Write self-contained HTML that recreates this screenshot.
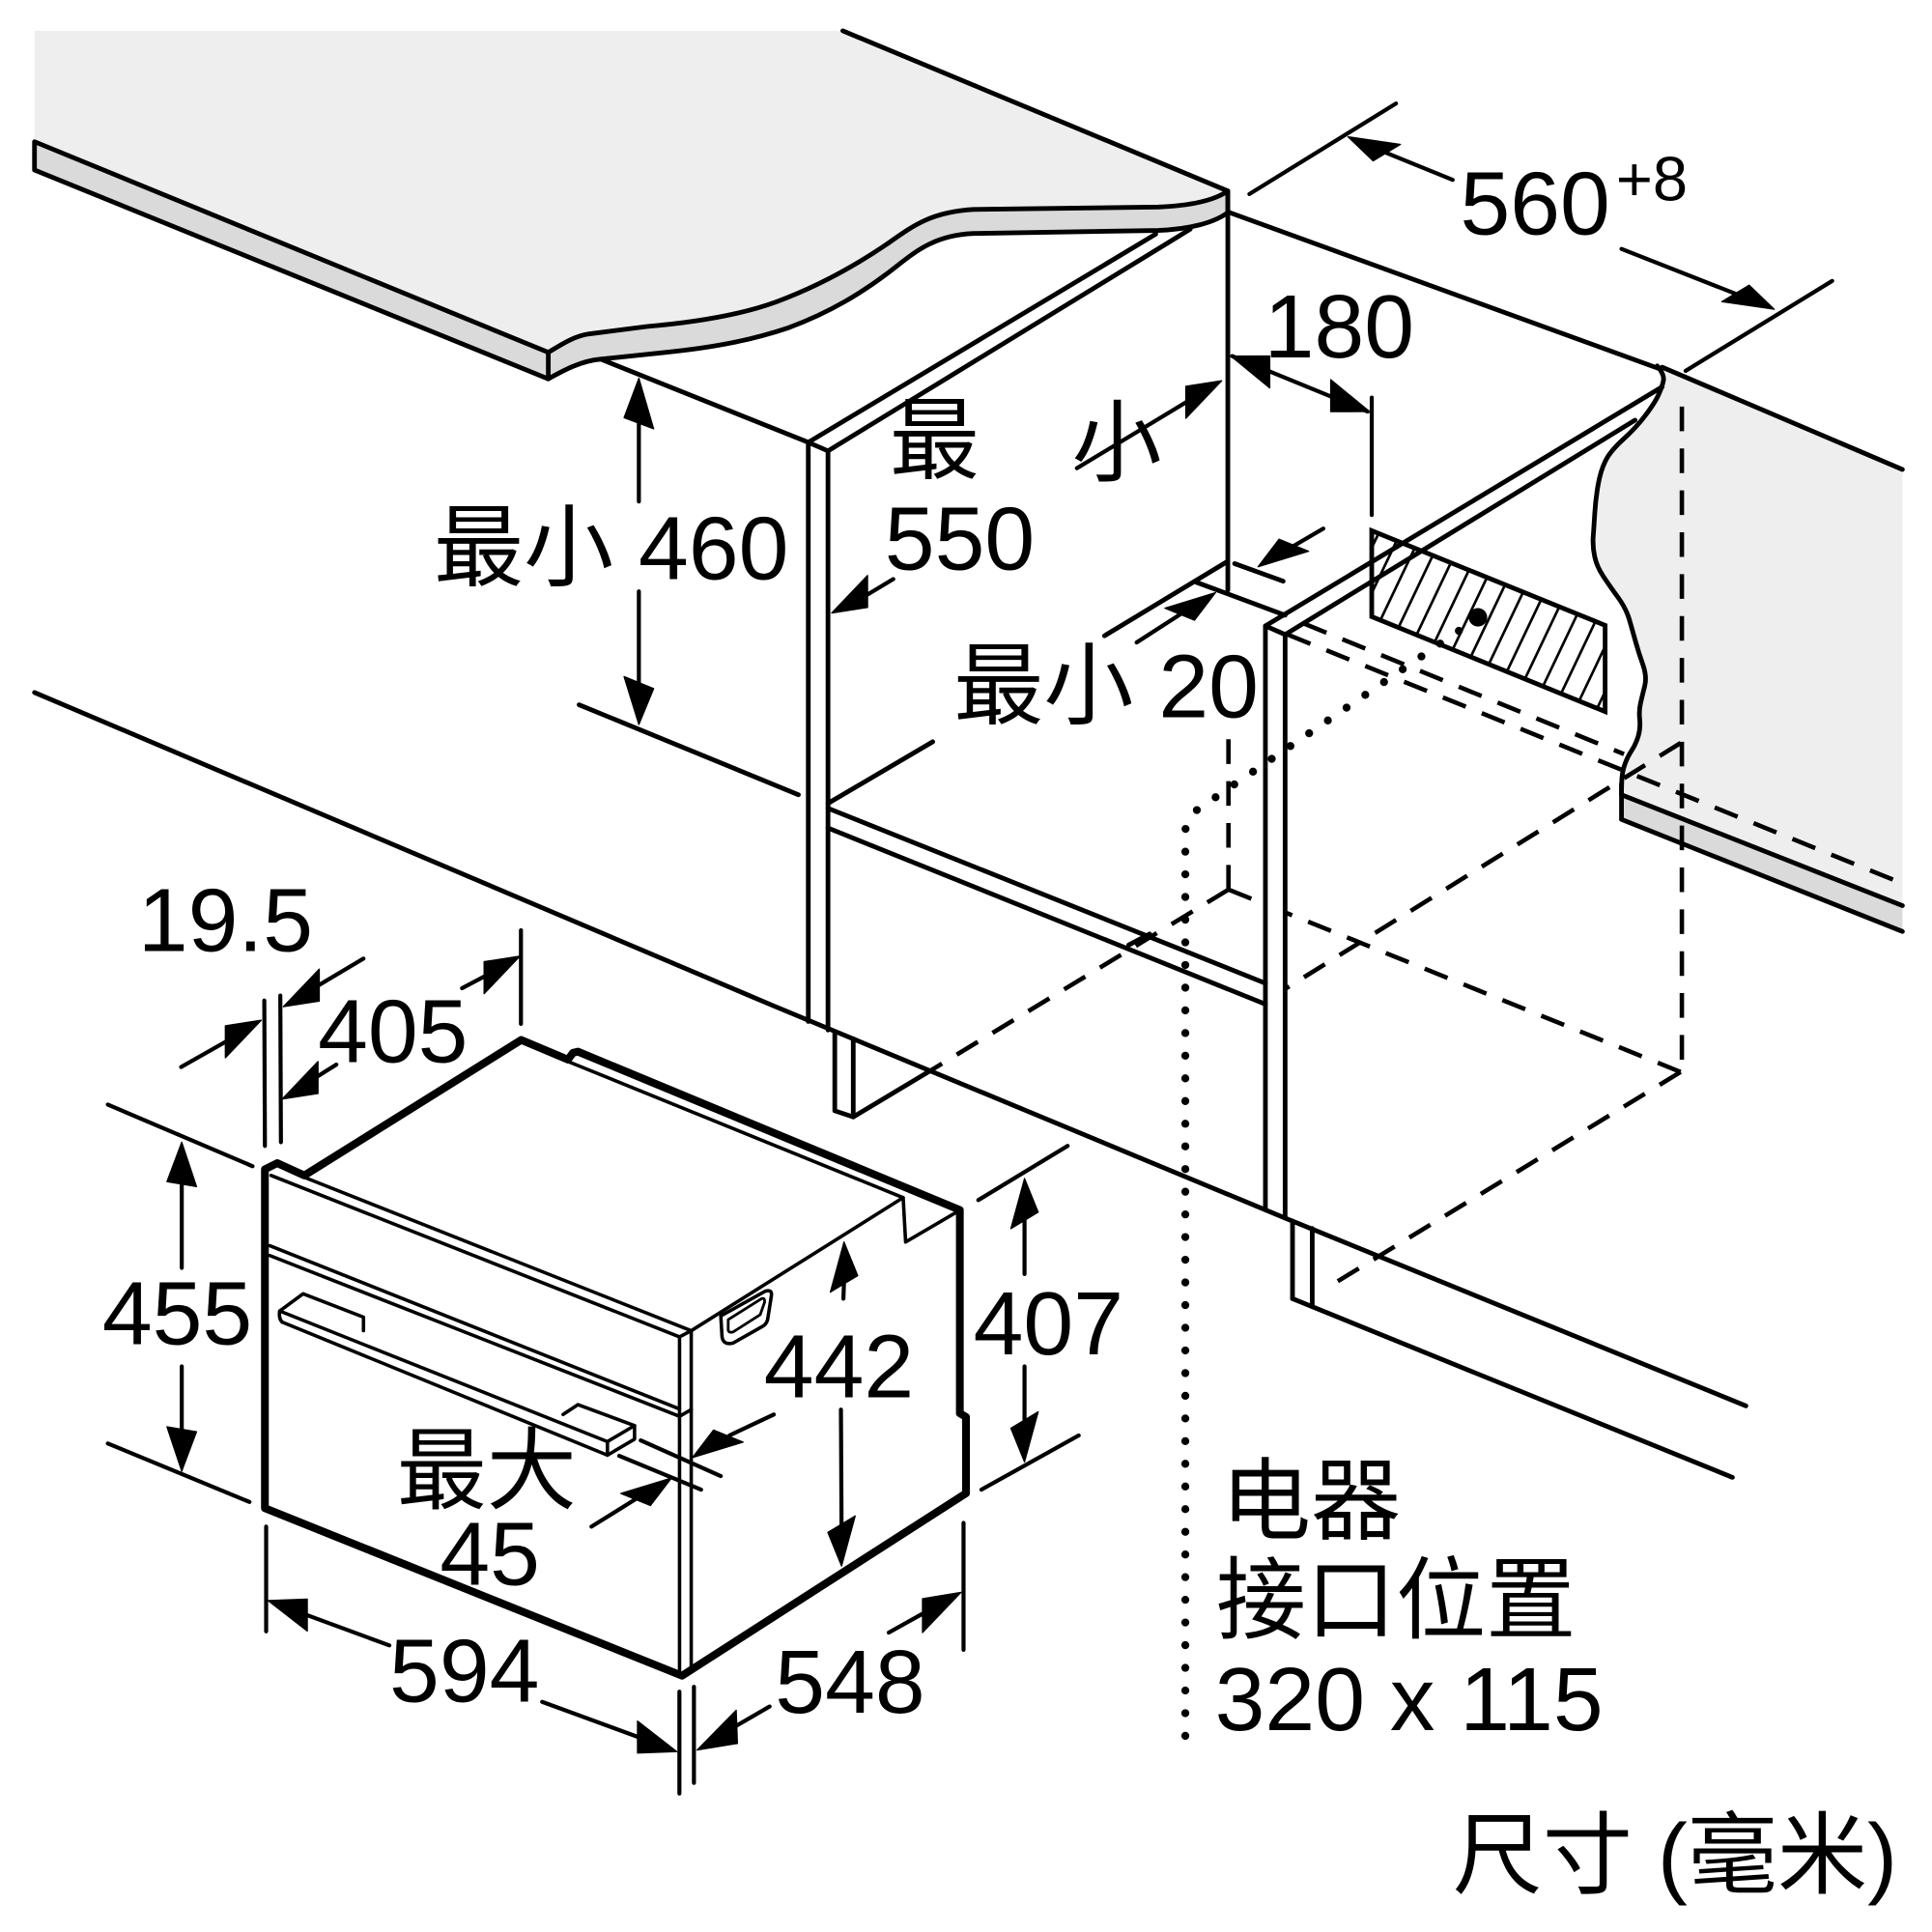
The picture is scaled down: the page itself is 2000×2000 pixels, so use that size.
<!DOCTYPE html>
<html>
<head>
<meta charset="utf-8">
<style>
html,body{margin:0;padding:0;background:#fff;}
svg{display:block;}
text{font-family:"Liberation Sans","Noto Sans CJK SC",sans-serif;fill:#000;}
</style>
</head>
<body>
<svg xmlns="http://www.w3.org/2000/svg" width="2000" height="2000" viewBox="0 0 1568 1568">
<rect x="0" y="0" width="1568" height="1568" fill="#fff"/>
<defs>
<clipPath id="hbox"><polygon points="1113.3,430.7 1302.7,507.5 1302.7,577.5 1113.3,500.5"/></clipPath>
</defs>

<!-- Countertop -->
<path d="M28,25 L684,25 L996.5,155 C985,163 965,167 940,168 L790,170 C755,172 740,184 720,198 C695,215 665,232 630,245 C600,256 560,262 525,265 L478,271 C465,273 455,280 445,286 L28,115 Z" fill="#eeeeee" stroke="none"/>
<path d="M28,115 L445,286 C455,280 465,273 478,271 L525,265 C560,262 600,256 630,245 C665,232 695,215 720,198 C740,184 755,172 790,170 L940,168 C965,167 985,163 996.5,155 L996.5,172.5 C985,181 965,186 940,187 L790,189.5 C755,191 740,207 720,222 C700,237 675,253 640,266 C610,276 580,282 540,286 L487.5,291.5 C470,293 455,302 445,307.5 L28,138 Z" fill="#dadada" stroke="#000" stroke-width="3.8" stroke-linejoin="round"/>

<!-- Right gray wall panel -->
<path d="M1345,297 Q1351,304 1350,309 Q1349,314 1346,320.5 Q1343,327 1335.5,337 Q1328,347 1317.5,356.5 Q1307,366 1303,374 Q1299,382 1297,393.5 Q1295,405 1294.3,416.5 Q1293.6,428 1293,436 Q1292.5,444 1294.3,452 Q1296,460 1301.4,468 Q1306.7,476 1313.3,485 Q1319.8,494 1322.4,503 Q1325,512 1327.5,521 Q1330,530 1333.4,539.5 Q1336.7,549 1334.9,556.5 Q1333,564 1331.5,570.5 Q1330,577 1330.8,584 Q1331.5,591 1329.6,597.5 Q1327.6,604 1324.3,609 Q1321,614 1319,619.5 Q1317,625 1316.5,630 Q1316,635 1316,645 L1544,735 L1544,380 Z" fill="#eeeeee" stroke="none"/>
<polygon points="1316,645 1544,735 1544,756 1316,665" fill="#dadada" stroke="none"/>

<!-- Hatched connection box -->
<polygon points="1113.3,430.7 1302.7,507.5 1302.7,577.5 1113.3,500.5" fill="#fff" stroke="none"/>
<g clip-path="url(#hbox)" stroke="#000" stroke-width="2.1" fill="none">
<line x1="1039.3" y1="600" x2="1125" y2="420"/>
<line x1="1056.8" y1="600" x2="1142.5" y2="420"/>
<line x1="1074.3" y1="600" x2="1160" y2="420"/>
<line x1="1091.8" y1="600" x2="1177.5" y2="420"/>
<line x1="1109.3" y1="600" x2="1195" y2="420"/>
<line x1="1126.8" y1="600" x2="1212.5" y2="420"/>
<line x1="1144.3" y1="600" x2="1230" y2="420"/>
<line x1="1161.8" y1="600" x2="1247.5" y2="420"/>
<line x1="1179.3" y1="600" x2="1265" y2="420"/>
<line x1="1196.8" y1="600" x2="1282.5" y2="420"/>
<line x1="1214.3" y1="600" x2="1300" y2="420"/>
<line x1="1231.8" y1="600" x2="1317.5" y2="420"/>
<line x1="1249.3" y1="600" x2="1335" y2="420"/>
<line x1="1266.8" y1="600" x2="1352.5" y2="420"/>
<line x1="1284.3" y1="600" x2="1370" y2="420"/>
</g>
<polygon points="1113.3,430.7 1302.7,507.5 1302.7,577.5 1113.3,500.5" fill="none" stroke="#000" stroke-width="3.8" stroke-linejoin="miter"/>
<circle cx="1199.5" cy="501" r="7.5" fill="#000"/>

<!-- Dashed hidden lines -->
<g fill="none" stroke="#000" stroke-width="3.6" stroke-dasharray="20 14" stroke-linecap="butt">
<path d="M1058,506 L1318,612"/>
<path d="M1045,515 L1544,717"/>
<path d="M1364,603 L1044,802"/>
<path d="M1365,330 V870"/>
<path d="M997,722 L1027,734"/>
<path d="M1364,870 L1043,740.5"/>
<path d="M1364,870 L1074,1047"/>
<path d="M997,722 L755,869"/>
<path d="M997,722 L997,590"/>
</g>

<!-- Dotted connection line -->
<path d="M1184,512 L972,657 Q962,664 962,676 L962,1417" fill="none" stroke="#000" stroke-width="6.5" stroke-dasharray="0 18.4" stroke-linecap="round"/>

<!-- Main structure lines -->
<g fill="none" stroke="#000" stroke-width="3.8" stroke-linecap="round" stroke-linejoin="round">
<line x1="445" y1="286" x2="445" y2="307.5"/>
<line x1="684" y1="25" x2="996.5" y2="155"/>
<line x1="996.5" y1="155" x2="996.5" y2="479"/>
<line x1="996.5" y1="172" x2="1346" y2="299"/>
<line x1="1349" y1="298" x2="1544" y2="381"/>
<path d="M1345,297 Q1351,304 1350,309 Q1349,314 1346,320.5 Q1343,327 1335.5,337 Q1328,347 1317.5,356.5 Q1307,366 1303,374 Q1299,382 1297,393.5 Q1295,405 1294.3,416.5 Q1293.6,428 1293,436 Q1292.5,444 1294.3,452 Q1296,460 1301.4,468 Q1306.7,476 1313.3,485 Q1319.8,494 1322.4,503 Q1325,512 1327.5,521 Q1330,530 1333.4,539.5 Q1336.7,549 1334.9,556.5 Q1333,564 1331.5,570.5 Q1330,577 1330.8,584 Q1331.5,591 1329.6,597.5 Q1327.6,604 1324.3,609 Q1321,614 1319,619.5 Q1317,625 1316.5,630 Q1316,635 1316,645"/>
<line x1="1316" y1="645" x2="1544" y2="735"/>
<line x1="1316" y1="665" x2="1544" y2="756"/>
<line x1="1316" y1="636" x2="1316" y2="665"/>

<!-- left tall cabinet -->
<line x1="487.5" y1="291.5" x2="656" y2="359"/>
<line x1="656" y1="359" x2="938" y2="190"/>
<line x1="672" y1="366" x2="966" y2="186"/>
<line x1="656" y1="359" x2="672" y2="366"/>
<line x1="656" y1="359" x2="656" y2="829"/>
<line x1="672" y1="366" x2="672" y2="836"/>
<line x1="470" y1="572" x2="648" y2="645"/>
<line x1="672" y1="652" x2="757" y2="602"/>
<line x1="672" y1="656" x2="1027" y2="798"/>
<line x1="672" y1="672" x2="1027" y2="815"/>
<line x1="916" y1="767" x2="933" y2="758"/>
<path d="M677.5,838 V901.5 L692.5,906.5 V843"/>
<line x1="692.5" y1="906.5" x2="755" y2="869"/>

<!-- right side panel -->
<line x1="1027" y1="508" x2="1027" y2="982"/>
<line x1="1043" y1="515" x2="1043" y2="988.5"/>
<line x1="1027" y1="508" x2="1043" y2="515"/>
<line x1="1027" y1="508" x2="1349" y2="314"/>
<line x1="1043" y1="515" x2="1327" y2="341"/>
<line x1="1049" y1="991" x2="1049" y2="1054"/>
<line x1="1065" y1="997" x2="1065" y2="1060.5"/>
<line x1="1049" y1="1054" x2="1406" y2="1199"/>

<!-- long floor line -->
<path d="M28,562 L627,816 L1044,989 L1417,1141"/>

<!-- 20 lines -->
<line x1="995.7" y1="456" x2="896.4" y2="516"/>
<line x1="970.8" y1="472.5" x2="1043" y2="499.3"/>
<line x1="1002" y1="457.4" x2="1041.4" y2="471.7"/>
</g>

<!-- Dimension / extension lines -->
<g fill="none" stroke="#000" stroke-width="3.3" stroke-linecap="round">
<line x1="1014" y1="157.5" x2="1133" y2="84"/>
<line x1="1368" y1="301" x2="1487" y2="228"/>
<line x1="1125" y1="124" x2="1179" y2="146"/>
<line x1="1316" y1="202" x2="1410" y2="239"/>
<line x1="1113.3" y1="322.7" x2="1113.3" y2="418"/>
<line x1="1000" y1="289" x2="1110" y2="334"/>
<line x1="518.5" y1="330" x2="518.5" y2="407"/>
<line x1="518.5" y1="480" x2="518.5" y2="560"/>
<line x1="874" y1="380" x2="965" y2="325"/>
<line x1="725" y1="470" x2="700" y2="485"/>
<line x1="1074" y1="429" x2="1050" y2="443"/>
<line x1="922.5" y1="521.4" x2="958" y2="498.5"/>

<!-- oven dims -->
<line x1="214.5" y1="812" x2="215" y2="930"/>
<line x1="227.5" y1="808" x2="228" y2="927"/>
<line x1="422.8" y1="755" x2="422.8" y2="831"/>
<line x1="147" y1="866" x2="184" y2="845"/>
<line x1="295" y1="778" x2="258" y2="800"/>
<line x1="375" y1="802" x2="394" y2="792"/>
<line x1="273" y1="864" x2="257" y2="874"/>
<line x1="87.5" y1="896.5" x2="205" y2="946.5"/>
<line x1="87.5" y1="1171.5" x2="202.5" y2="1219"/>
<line x1="147.5" y1="958" x2="147.5" y2="1029"/>
<line x1="147.5" y1="1109" x2="147.5" y2="1162"/>
<line x1="794" y1="974" x2="866.5" y2="930"/>
<line x1="796.5" y1="1209" x2="875.5" y2="1165"/>
<line x1="831.5" y1="988" x2="831.5" y2="1034"/>
<line x1="831.5" y1="1109" x2="831.5" y2="1154"/>
<line x1="685" y1="1040" x2="684.5" y2="1054"/>
<line x1="682.5" y1="1144" x2="683" y2="1240"/>
<line x1="216" y1="1239" x2="216" y2="1324"/>
<line x1="551.4" y1="1373" x2="551.4" y2="1455.6"/>
<line x1="563.2" y1="1369" x2="563.2" y2="1447"/>
<line x1="782" y1="1236" x2="782" y2="1339"/>
<line x1="247" y1="1310" x2="316" y2="1335.4"/>
<line x1="440" y1="1381.2" x2="520" y2="1410.5"/>
<line x1="624.6" y1="1385" x2="597" y2="1401"/>
<line x1="721.3" y1="1325" x2="750" y2="1309"/>
<line x1="520" y1="1169" x2="585" y2="1198"/>
<line x1="502.5" y1="1181.5" x2="569" y2="1209"/>
<line x1="628" y1="1148" x2="592" y2="1165"/>
<line x1="480" y1="1239" x2="517" y2="1216"/>
</g>

<!-- Arrowheads -->
<g fill="#000" stroke="#000" stroke-width="1" stroke-linejoin="round">
<polygon points="518.5,307 506.5,339 530.5,348"/>
<polygon points="518.5,588 506.5,549.1 530.5,558.9"/>
<polygon points="991.5,309 962.4,313.5 962.4,339.5"/>
<polygon points="675,497.5 704.1,467 704.1,493"/>
<polygon points="1021,460 1038.1,437.6 1062.1,447.4"/>
<polygon points="986.5,481 945.4,493.6 969.4,503.4"/>
<polygon points="999,289 1030.5,288.9 1030.5,314.9"/>
<polygon points="1111.5,334 1080,308.1 1080,334.1"/>
<polygon points="1094,111 1136.6,117.2 1114.4,130.6"/>
<polygon points="1440,251 1419.6,231.4 1397.4,244.8"/>
<polygon points="212,828 182.9,832.5 182.9,858.5"/>
<polygon points="230,817 259.1,786.5 259.1,812.5"/>
<polygon points="422,776 392.9,780.5 392.9,806.5"/>
<polygon points="229,892 258.1,861.5 258.1,887.5"/>
<polygon points="147.5,927 135.5,959 159.5,963"/>
<polygon points="147.5,1194 135.5,1158 159.5,1162"/>
<polygon points="831.5,956.5 820.4,997.2 842.6,983.8"/>
<polygon points="831.5,1186.5 820.4,1159.2 842.6,1145.8"/>
<polygon points="685,1008 673.9,1048.7 696.1,1035.3"/>
<polygon points="683,1271 671.9,1243.7 694.1,1230.3"/>
<polygon points="217.5,1299 249.4,1297.8 249.4,1323.8"/>
<polygon points="549.3,1421.6 517.4,1396.8 517.4,1422.8"/>
<polygon points="565.8,1420.3 597.5,1388 598.5,1415"/>
<polygon points="780,1292.3 748.7,1297.5 748.7,1325"/>
<polygon points="562,1183 579.1,1160.6 603.1,1170.4"/>
<polygon points="545,1199.5 503.9,1212.1 527.9,1221.9"/>
</g>

<!-- Oven -->
<g fill="none" stroke="#000" stroke-width="2.8" stroke-linecap="round" stroke-linejoin="round">
<line x1="220" y1="954" x2="551.5" y2="1085"/>
<line x1="247" y1="955.5" x2="561" y2="1080"/>
<line x1="551.5" y1="1085" x2="561" y2="1080"/>
<line x1="551.5" y1="1085" x2="551.5" y2="1358"/>
<line x1="561" y1="1080" x2="561" y2="1354"/>
<path d="M561,1080 L733,972 L735,1008 L776,984"/>
<line x1="461" y1="861.5" x2="733" y2="972"/>
<line x1="219" y1="1011" x2="551.5" y2="1143.5"/>
<path d="M219,1019 L551.5,1149.5 L561,1144"/>
<!-- handle -->
<path d="M229,1073 Q226,1070 227,1064 L246,1050 L295,1069 V1080"/>
<line x1="227" y1="1064" x2="493" y2="1170"/>
<line x1="229" y1="1073" x2="493" y2="1181"/>
<path d="M493,1170 L515,1157 L515,1168 L493,1181 Z"/>
<path d="M457,1148 L469,1140 L515,1157"/>
<!-- side recess -->
<path d="M585,1068 L621,1048 Q627,1046 626,1052 L623,1071 Q622,1075 618,1077 L595,1090 Q587,1092 586,1085 Z"/>
<path d="M591,1071 L618,1054 Q621,1053 620.5,1057 L617,1067 L595,1081 Q591,1082 591,1079 Z" stroke-width="2.2"/>
</g>
<g fill="none" stroke="#000" stroke-width="6.3" stroke-linecap="round" stroke-linejoin="round">
<path d="M215,1224 V949 L225,944 L247,954 L423,844 L461,860 L465,854.5 L469,853.5 L779,982 V1147 L784,1150 V1212 L553.5,1360 Z"/>
</g>

<!-- Text -->
<g font-size="73">
<text x="1185" y="190">560</text>
<text x="1311.5" y="162.5" font-size="51">+8</text>
<text x="1026" y="290">180</text>
<text x="722" y="383">最</text>
<text x="870" y="385">小</text>
<text x="718" y="462">550</text>
<text x="352" y="470">最小 460</text>
<text x="774" y="582">最小 20</text>
<text x="112" y="772">19.5</text>
<text x="258" y="862">405</text>
<text x="83" y="1091">455</text>
<text x="620" y="1134">442</text>
<text x="790" y="1099">407</text>
<text x="322" y="1219">最大</text>
<text x="357" y="1286">45</text>
<text x="316" y="1381">594</text>
<text x="629" y="1390">548</text>
<text x="991" y="1244">电器</text>
<text x="987" y="1324">接口位置</text>
<text x="986" y="1404">320 x 115</text>
<text x="1179" y="1531">尺寸 (毫米)</text>
</g>
</svg>
</body>
</html>
